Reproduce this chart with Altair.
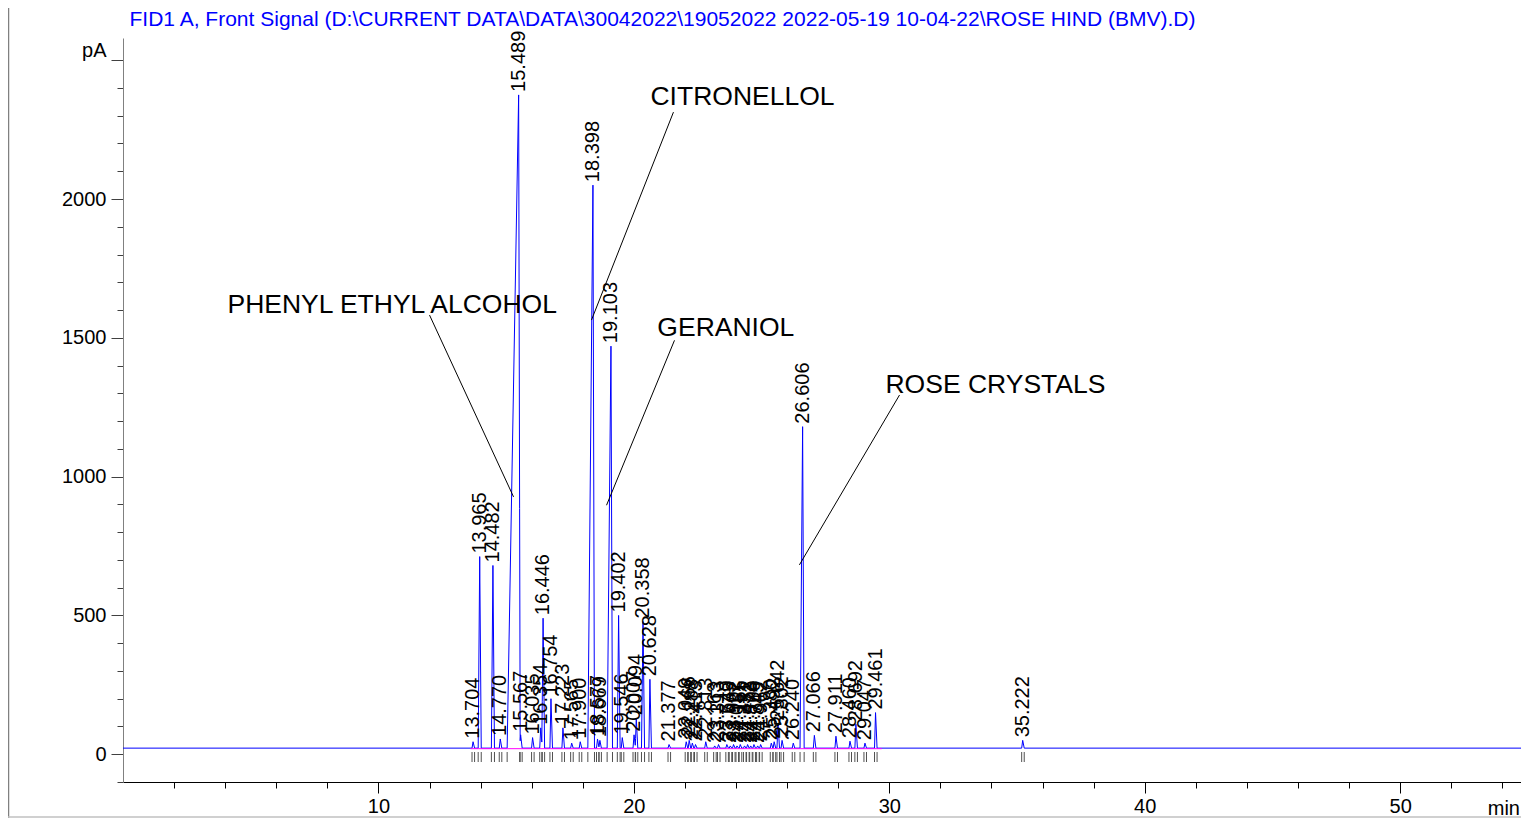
import altair as alt
import pandas as pd

# ---------------- data ----------------
peak_rt = [13.704, 13.965, 14.482, 14.770, 15.489, 15.567, 16.035, 16.354, 16.446, 16.754,
           17.223, 17.565, 17.900, 18.398, 18.577, 18.669, 19.103, 19.402, 19.546, 20.007,
           20.094, 20.358, 20.628, 21.377, 22.049, 22.166, 22.288, 22.413, 22.813, 23.163,
           23.313, 23.640, 23.773, 23.902, 24.037, 24.165, 24.331, 24.452, 24.573, 24.700,
           24.845, 24.962, 25.380, 25.492, 25.642, 25.802, 26.240, 26.606, 27.066, 27.911,
           28.460, 28.692, 29.047, 29.461, 35.222]
peak_apex = [45, 712, 680, 55, 2375, 70, 60, 95, 490, 200,
             95, 40, 45, 2050, 55, 50, 1470, 500, 60, 70,
             130, 478, 270, 35, 45, 50, 40, 35, 45, 30,
             35, 35, 30, 35, 30, 35, 30, 35, 30, 35,
             30, 35, 40, 45, 110, 50, 40, 1180, 68, 65,
             47, 108, 40, 150, 50]
baseline_pA = 22

# leading / tailing widths of the peaks (minutes)
wide_front_rt = [13.965, 14.482, 15.489, 16.446, 18.398, 19.103, 19.402, 20.358, 26.606]
wide_front_min = [0.06, 0.06, 0.45, 0.05, 0.20, 0.15, 0.05, 0.06, 0.10]
default_front_min = 0.04
default_tail_min = 0.06
run_span = [0.0, 54.73]
integration_span = [13.6, 29.7]

compound_names = ["PHENYL ETHYL ALCOHOL", "CITRONELLOL", "GERANIOL", "ROSE CRYSTALS"]
name_x = [4.09, 20.65, 20.92, 29.85]
name_y = [1618, 2367, 1535, 1330]
leader_x1 = [12.0, 21.55, 21.59, 30.40]
leader_y1 = [1582, 2313, 1491, 1294]
leader_x2 = [15.29, 18.34, 18.93, 26.48]
leader_y2 = [927, 1564, 897, 682]

x_tick_values = list(range(2, 55, 2))
y_tick_values = list(range(-100, 2501, 100))
title_text = "FID1 A, Front Signal (D:\\CURRENT DATA\\DATA\\30042022\\19052022 2022-05-19 10-04-22\\ROSE HIND (BMV).D)"

# ---------------- build the trace (sum of triangular peaks) ----------------
front = {rt: default_front_min for rt in peak_rt}
for rt, w in zip(wide_front_rt, wide_front_min):
    front[rt] = w
tail = {rt: default_tail_min for rt in peak_rt}


def contrib(t, rt, f, tl):
    if rt - f <= t <= rt:
        return (t - (rt - f)) / f
    if rt < t <= rt + tl:
        return 1 - (t - rt) / tl
    return 0.0


verts = set(run_span)
for rt in peak_rt:
    verts.update([round(rt - front[rt], 5), rt, round(rt + tail[rt], 5)])
verts = sorted(verts)
signal = [baseline_pA + sum((a - baseline_pA) * contrib(t, rt, front[rt], tail[rt])
                            for rt, a in zip(peak_rt, peak_apex)) for t in verts]
trace = pd.DataFrame({"t": verts, "s": signal})

peaks = pd.DataFrame({"rt": peak_rt, "apex": peak_apex,
                      "label": [f"{v:.3f}" for v in peak_rt]})
events = pd.DataFrame({"t": [rt - front[rt] for rt in peak_rt] + [rt + tail[rt] for rt in peak_rt]})
integ = pd.DataFrame({"t": integration_span, "s": [baseline_pA - 2] * 2})
names = pd.DataFrame({"name": compound_names, "x": name_x, "y": name_y,
                      "x1": leader_x1, "y1": leader_y1, "x2": leader_x2, "y2": leader_y2})
one = pd.DataFrame({"a": [0]})

# ---------------- chart ----------------
W, H = 1398, 744
FONT = "Liberation Sans"
xs = alt.Scale(domain=run_span, nice=False, zero=False)
ys = alt.Scale(domain=[-100, 2580], nice=False, zero=False)

x_axis = alt.Axis(values=x_tick_values, title=None, grid=False,
                  tickSize={"condition": {"test": "datum.value % 10 === 0", "value": 11}, "value": 6},
                  labelExpr="datum.value % 10 === 0 ? datum.label : ''",
                  labelOverlap=False, labelFlush=False, labelFont=FONT, labelFontSize=20,
                  labelColor="black", labelPadding=3, domainColor="black", tickColor="black",
                  format="d")
y_axis = alt.Axis(values=y_tick_values, title=None, grid=False,
                  tickSize={"condition": {"test": "datum.value % 500 === 0", "value": 12}, "value": 6},
                  labelExpr="datum.value == 2500 ? 'pA' : (datum.value % 500 === 0 && datum.value >= 0 ? datum.label : '')",
                  labelOffset={"condition": {"test": "datum.value == 2500", "value": -10}, "value": 0},
                  labelOverlap=False, labelFlush=False, labelFont=FONT, labelFontSize=20,
                  labelColor="black", labelPadding=5, domainColor="#808080", tickColor="#404040",
                  format="d")


def X(field):
    return alt.X(field, scale=xs, axis=x_axis, title=None)


def Y(field):
    return alt.Y(field, scale=ys, axis=y_axis, title=None)


line = alt.Chart(trace).mark_line(color="#0000ff", strokeWidth=1).encode(
    x=X("t:Q"), y=Y("s:Q"))
integ_line = alt.Chart(integ).mark_line(color="#ff00ff", strokeWidth=1).encode(
    x=X("t:Q"), y=Y("s:Q"))
event_ticks = alt.Chart(events).mark_rule(color="#505050", strokeWidth=1).encode(
    x=X("t:Q"), y=alt.value(714), y2=alt.value(724))
labels = alt.Chart(peaks).mark_text(angle=270, align="left", baseline="middle", dx=3,
                                    font=FONT, fontSize=20, color="black").encode(
    x=X("rt:Q"), y=Y("apex:Q"), text="label:N")
leaders = alt.Chart(names).mark_rule(color="black", strokeWidth=1).encode(
    x=X("x1:Q"), y=Y("y1:Q"), x2="x2:Q", y2="y2:Q")
name_text = alt.Chart(names).mark_text(align="left", baseline="middle", font=FONT,
                                       fontSize=26.5, color="black").encode(
    x=X("x:Q"), y=Y("y:Q"), text="name:N")
title = alt.Chart(one).mark_text(align="left", baseline="alphabetic", font=FONT, fontSize=21,
                                 color="#0000ff", text=title_text).encode(
    x=alt.value(6.5), y=alt.value(-12.5))
min_text = alt.Chart(one).mark_text(align="right", baseline="middle", font=FONT, fontSize=20,
                                    color="black", text="min", dx=-1).encode(
    x=alt.value(W), y=alt.value(771))
frame_left = alt.Chart(one).mark_rule(color="#808080", strokeWidth=1.5).encode(
    x=alt.value(-114.5), y=alt.value(-38), y2=alt.value(780))
frame_bottom = alt.Chart(one).mark_rule(color="#c0c0c0", strokeWidth=1.5).encode(
    x=alt.value(-115), x2=alt.value(W), y=alt.value(779))

chart = alt.layer(line, integ_line, event_ticks, labels, leaders, name_text,
                  frame_left, frame_bottom, title, min_text).properties(
    width=W, height=H,
    padding={"left": 115, "top": 30, "right": 0, "bottom": 36},
    autosize=alt.AutoSizeParams(type="none"),
    background="white",
).configure_view(stroke=None)

chart.save("out.html", embed_options={"renderer": "svg", "actions": False})
